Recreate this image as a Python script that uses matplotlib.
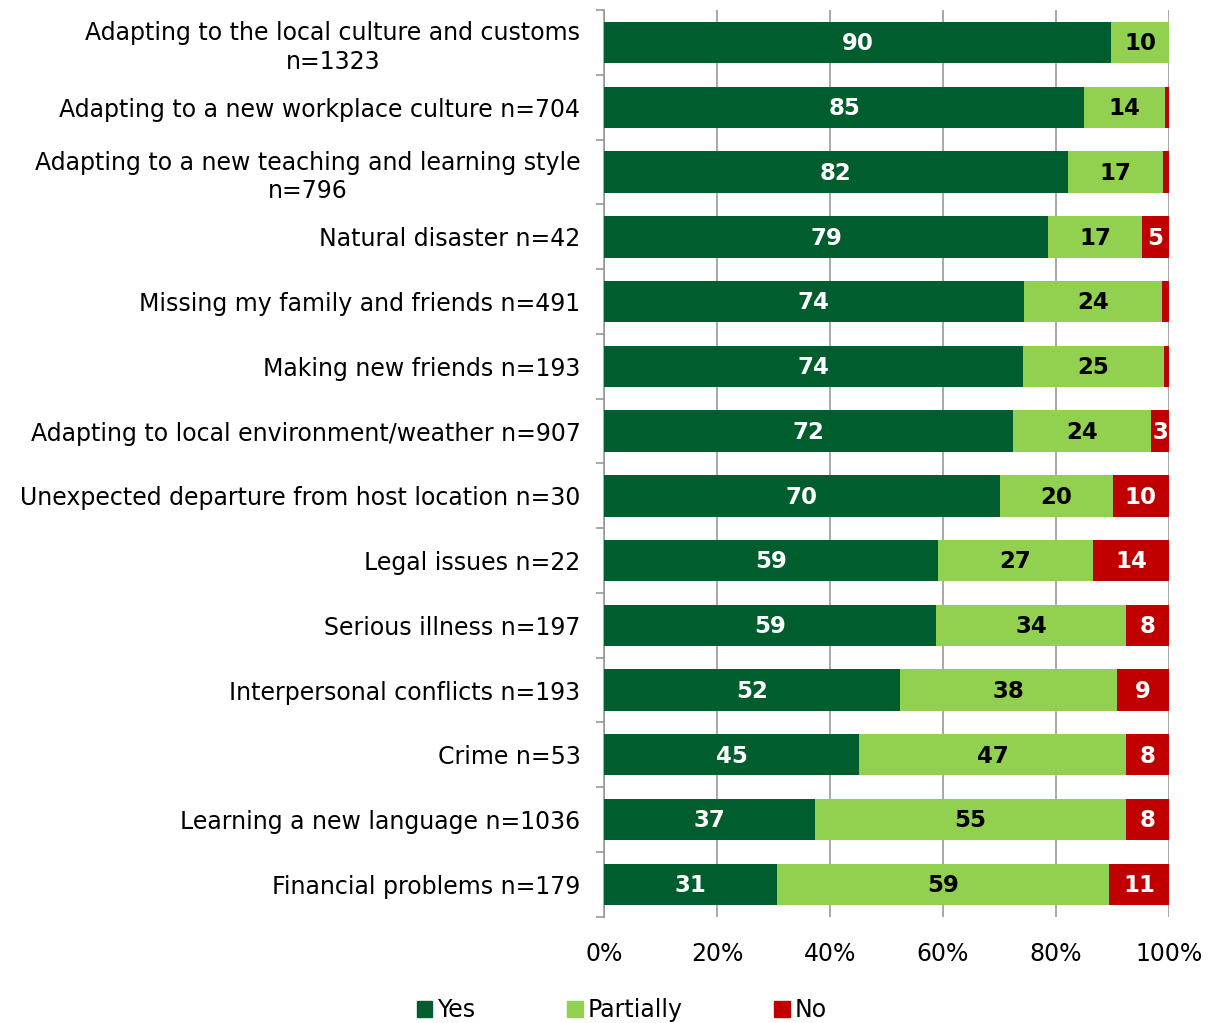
import numpy as np
import matplotlib.pyplot as plt
from matplotlib.patches import Patch

# Categories (top to bottom)
categories = [
    "Adapting to the local culture and customs\nn=1323",
    "Adapting to a new workplace culture n=704",
    "Adapting to a new teaching and learning style\nn=796",
    "Natural disaster n=42",
    "Missing my family and friends n=491",
    "Making new friends n=193",
    "Adapting to local environment/weather n=907",
    "Unexpected departure from host location n=30",
    "Legal issues n=22",
    "Serious illness n=197",
    "Interpersonal conflicts n=193",
    "Crime n=53",
    "Learning a new language n=1036",
    "Financial problems n=179",
]
yes = [89.7, 85.0, 82.1, 78.6, 74.3, 74.2, 72.4, 70.0, 59.1, 58.8, 52.4, 45.2, 37.3, 30.6]
partially = [10.3, 14.3, 16.8, 16.6, 24.5, 24.9, 24.4, 20.0, 27.4, 33.6, 38.4, 47.2, 55.1, 58.8]
no = [0.0, 0.7, 1.1, 4.8, 1.2, 0.9, 3.2, 10.0, 13.5, 7.6, 9.2, 7.6, 7.6, 10.6]

series = [("Yes", yes, "#005E2E", "white"),
          ("Partially", partially, "#92D050", "black"),
          ("No", no, "#C00000", "white")]

plt.rcParams['font.family'] = ['DejaVu Sans']

fig = plt.figure(figsize=(12.19, 10.23), dpi=100)
ax = fig.add_axes([0.4955, 0.104, 0.4635, 0.886])

y = np.arange(len(categories))
left = np.zeros(len(categories))
handles = []
for name, vals, color, tcolor in series:
    vals = np.array(vals)
    ax.barh(y, vals, left=left, height=0.64, color=color, zorder=3)
    for yi, l, v in zip(y, left, vals):
        if v >= 2.5:
            ax.text(l + v / 2, yi + 0.02, f"{v:.0f}", ha='center', va='center',
                    color=tcolor, fontsize=16.5, fontweight='bold', zorder=4)
    left = left + vals
    handles.append(Patch(color=color, label=name))

ax.set_xlim(0, 100)
ax.set_ylim(len(categories) - 0.5, -0.5)
ax.set_yticks(y)
ax.set_yticklabels(categories, fontsize=17, linespacing=1.25)
for lab in ax.get_yticklabels():
    lab.set_multialignment('center')
ax.tick_params(axis='y', which='major', length=0, pad=17)
ax.set_yticks(np.arange(-0.5, len(categories), 1), minor=True)
ax.tick_params(axis='y', which='minor', length=6, color='#999999', width=1.2)

ax.set_xticks(np.arange(0, 101, 20))
ax.set_xticklabels([f"{v}%" for v in range(0, 101, 20)], fontsize=17)
ax.tick_params(axis='x', length=0, pad=18)
ax.grid(axis='x', color='#999999', linewidth=1.2, zorder=0)

for s in ['top', 'right', 'bottom']:
    ax.spines[s].set_visible(False)
ax.spines['left'].set_color('#999999')
ax.spines['left'].set_linewidth(1.2)

fig.legend(handles=handles, loc='lower center', bbox_to_anchor=(0.51, -0.02),
           ncol=3, frameon=False, fontsize=17, handlelength=0.65, handleheight=0.65,
           handletextpad=0.2, columnspacing=3.9)

fig.savefig("out.png", dpi=100)
